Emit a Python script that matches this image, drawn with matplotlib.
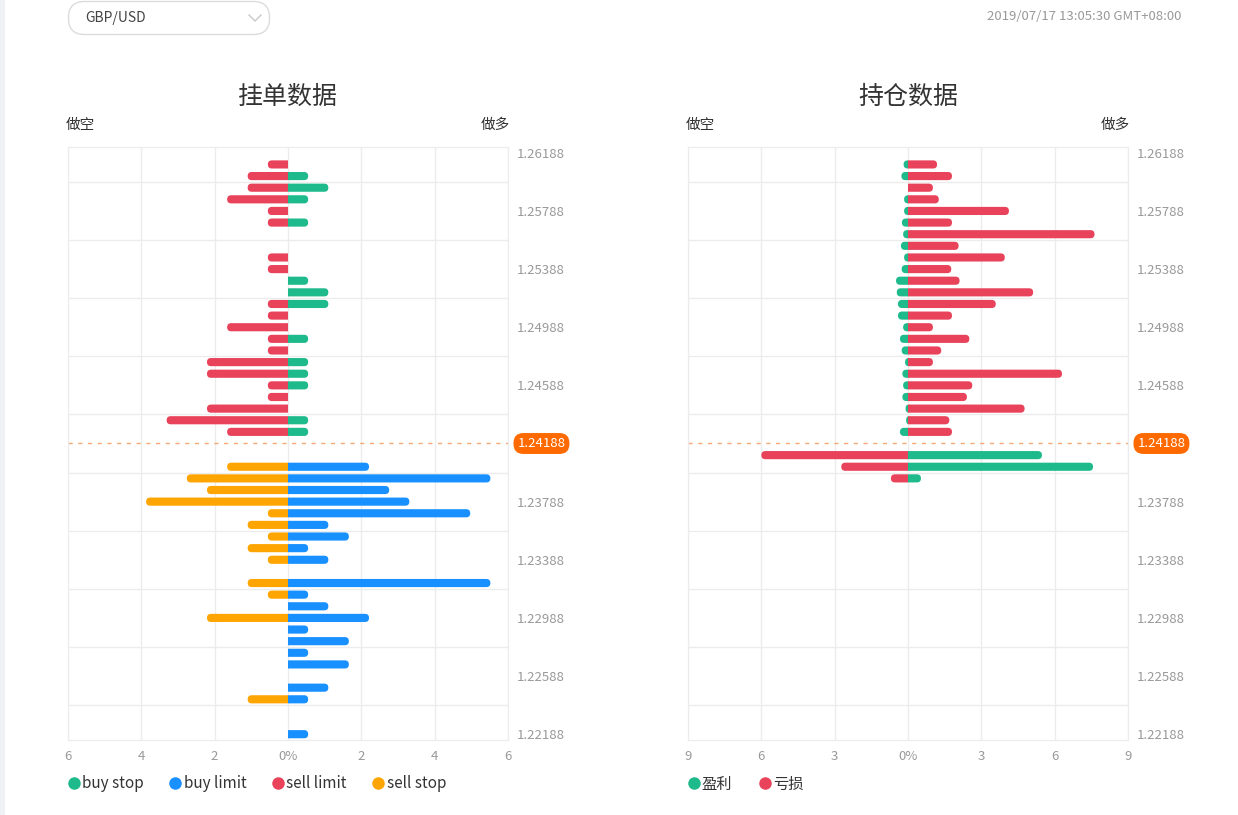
import numpy as np
import matplotlib
matplotlib.use("Agg")
import matplotlib.pyplot as plt
from matplotlib.patches import FancyBboxPatch, Rectangle
from matplotlib.lines import Line2D
from matplotlib.transforms import IdentityTransform

plt.rcParams['font.family'] = ['Noto Sans CJK SC', 'DejaVu Sans']

# 51 price levels, top (1.26188) to bottom (1.22188); labels every 5th level
tick_labels = ["1.26188", "1.25788", "1.25388", "1.24988", "1.24588", "1.24188",
               "1.23788", "1.23388", "1.22988", "1.22588", "1.22188"]
current_price = "1.24188"
current_idx = 25
n_levels = 51

# 挂单数据 (%)
sell_limit = [0, .55, 1.1, 1.1, 1.66, .55, .55, 0, 0, .55,
              .55, 0, 0, .55, .55, 1.66, .55, .55, 2.21, 2.21,
              .55, .55, 2.21, 3.31, 1.66, 0, 0, 0, 0, 0,
              0, 0, 0, 0, 0, 0, 0, 0, 0, 0,
              0, 0, 0, 0, 0, 0, 0, 0, 0, 0,
              0]
buy_stop = [0, 0, .55, 1.1, .55, 0, .55, 0, 0, 0,
            0, .55, 1.1, 1.1, 0, 0, .55, 0, .55, .55,
            .55, 0, 0, .55, .55, 0, 0, 0, 0, 0,
            0, 0, 0, 0, 0, 0, 0, 0, 0, 0,
            0, 0, 0, 0, 0, 0, 0, 0, 0, 0,
            0]
sell_stop = [0, 0, 0, 0, 0, 0, 0, 0, 0, 0,
             0, 0, 0, 0, 0, 0, 0, 0, 0, 0,
             0, 0, 0, 0, 0, 0, 0, 1.66, 2.76, 2.21,
             3.87, .55, 1.1, .55, 1.1, .55, 0, 1.1, .55, 0,
             2.21, 0, 0, 0, 0, 0, 0, 1.1, 0, 0,
             0]
buy_limit = [0, 0, 0, 0, 0, 0, 0, 0, 0, 0,
             0, 0, 0, 0, 0, 0, 0, 0, 0, 0,
             0, 0, 0, 0, 0, 0, 0, 2.21, 5.52, 2.76,
             3.31, 4.97, 1.1, 1.66, .55, 1.1, 0, 5.52, .55, 1.1,
             2.21, .55, 1.66, .55, 1.66, 0, 1.1, .55, 0, 0,
             .55]

# 持仓数据 (%): 做空 side (left) and 做多 side (right)
short_pos = [0, .18, .27, 0, .16, .16, .25, .2, .29, .16,
             .26, .49, .46, .41, .41, .2, .33, .26, .12, .23,
             .2, .23, .1, .08, .33, 0, 6.0, 2.73, .7, 0,
             0, 0, 0, 0, 0, 0, 0, 0, 0, 0,
             0, 0, 0, 0, 0, 0, 0, 0, 0, 0,
             0]
long_pos = [0, 1.19, 1.8, 1.02, 1.26, 4.13, 1.8, 7.63, 2.07, 3.96,
            1.77, 2.11, 5.12, 3.59, 1.8, 1.02, 2.51, 1.36, 1.02, 6.3,
            2.63, 2.41, 4.77, 1.69, 1.8, 0, 5.48, 7.57, .53, 0,
            0, 0, 0, 0, 0, 0, 0, 0, 0, 0,
            0, 0, 0, 0, 0, 0, 0, 0, 0, 0,
            0]

GREEN = '#1fba8b'
BLUE = '#1890ff'
RED = '#e8435a'
ORANGE = '#ffa502'
GRID = '#ececec'
TICK = '#999999'
TEXT = '#333333'

W, H = 1238, 815
fig = plt.figure(figsize=(W / 100, H / 100), dpi=100)
fig.patch.set_facecolor('white')


def px_axes(x0, x1, y0, y1):
    return fig.add_axes([x0 / W, 1 - y1 / H, (x1 - x0) / W, (y1 - y0) / H])


def round_bars(ax, bars):
    # swap each flat bar for a pill clipped at zero, so only the outer end is round
    bb = ax.get_window_extent()
    xl, yl = ax.get_xlim(), ax.get_ylim()
    sx = abs(xl[1] - xl[0]) / bb.width
    sy = abs(yl[1] - yl[0]) / bb.height
    for rect in bars:
        w = rect.get_width()
        rect.set_visible(False)
        if w == 0:
            continue
        h = rect.get_height()
        ry = h / 2
        ext = ry / sy * sx
        total = abs(w) + ext
        rx = min(ext, total / 2)
        left = -ext if w > 0 else w
        pill = FancyBboxPatch((left, rect.get_y()), total, h,
                              boxstyle=f"round,pad=0,rounding_size={rx}",
                              mutation_aspect=ry / rx,
                              fc=rect.get_facecolor(), ec='none', lw=0, zorder=2)
        ax.add_patch(pill)
        side = Rectangle((0, -5), 100 if w > 0 else -100, n_levels + 10, transform=ax.transData)
        pill.set_clip_path(side)


def setup_axis(ax, xmax, step):
    ax.set_xlim(-xmax, xmax)
    ax.set_ylim(n_levels - 0.5, -0.5)
    xt = np.arange(-xmax, xmax + step, step)
    ax.set_xticks(xt)
    ax.set_xticklabels(["0%" if v == 0 else f"{abs(v):g}" for v in xt])
    yt = np.arange(0, n_levels, 5)
    ax.set_yticks(yt)
    ax.set_yticklabels([lab if lab != current_price else "" for lab in tick_labels])
    ax.set_yticks(np.arange(2.5, n_levels - 1, 5), minor=True)
    ax.yaxis.tick_right()
    ax.tick_params(axis='both', which='both', length=0, colors=TICK, labelsize=9.5)
    ax.tick_params(axis='x', pad=7)
    ax.tick_params(axis='y', pad=6)
    ax.grid(which='major', axis='x', color=GRID, lw=1)
    ax.grid(which='minor', axis='y', color=GRID, lw=1)
    ax.set_axisbelow(True)
    for s in ax.spines.values():
        s.set_color(GRID)
    ax.axhline(current_idx, color='#f6a877', lw=1, ls=(0, (3, 4)), zorder=1)
    ax.text(1.0215, current_idx, current_price, transform=ax.get_yaxis_transform(),
            ha='left', va='center', color='white', fontsize=9.5,
            bbox=dict(boxstyle='round,pad=0.3,rounding_size=0.75', fc='#ff6a00', ec='none'))


y = np.arange(n_levels)
bar_h = 0.7

# left panel: 挂单数据
ax1 = px_axes(68, 508, 147, 740)
setup_axis(ax1, 6, 2)
for vals, col, sign in [(sell_limit, RED, -1), (buy_stop, GREEN, 1),
                        (sell_stop, ORANGE, -1), (buy_limit, BLUE, 1)]:
    b = ax1.barh(y, sign * np.array(vals), height=bar_h, color=col, lw=0)
    round_bars(ax1, b)

# right panel: 持仓数据
ax2 = px_axes(688, 1128, 147, 740)
setup_axis(ax2, 9, 3)
short_cols = [GREEN if i < current_idx else RED for i in y]
long_cols = [RED if i < current_idx else GREEN for i in y]
b = ax2.barh(y, -np.array(short_pos), height=bar_h, color=short_cols, lw=0)
round_bars(ax2, b)
b = ax2.barh(y, np.array(long_pos), height=bar_h, color=long_cols, lw=0)
round_bars(ax2, b)

# titles and side labels
for cx, lx, rx, title in [(288, 66, 510, "挂单数据"), (908, 686, 1130, "持仓数据")]:
    fig.text(cx / W, 1 - 97 / H, title, ha='center', va='center', fontsize=18, color=TEXT)
    fig.text(lx / W, 1 - 125 / H, "做空", ha='left', va='center', fontsize=10.5, color=TEXT)
    fig.text(rx / W, 1 - 125 / H, "做多", ha='right', va='center', fontsize=10.5, color=TEXT)


# legends
def dot(c):
    return Line2D([], [], marker='o', ls='none', markersize=9, markerfacecolor=c, markeredgecolor='none')


leg_kw = dict(loc='center left', frameon=False, fontsize=11, handletextpad=0.1,
              handlelength=0.9, borderpad=0, labelcolor=TEXT)
fig.legend([dot(GREEN), dot(BLUE), dot(RED), dot(ORANGE)],
           ["buy stop", "buy limit", "sell limit", "sell stop"],
           bbox_to_anchor=(59 / W, 1 - 784 / H), ncol=4, columnspacing=1.62, **leg_kw)
fig.legend([dot(GREEN), dot(RED)], ["盈利", "亏损"],
           bbox_to_anchor=(679 / W, 1 - 784 / H), ncol=2, columnspacing=1.7, **leg_kw)

# header: left strip, pair selector, timestamp
fig.add_artist(Rectangle((0, 0), 5, H, transform=IdentityTransform(), fc='#eff1f5', ec='none'))
fig.add_artist(FancyBboxPatch((68.5, H - 34.5), 201, 33, boxstyle='round,pad=0,rounding_size=16',
                              transform=IdentityTransform(), fc='white', ec='#dcdcdc', lw=1))
fig.add_artist(Line2D([249, 255, 261], [H - 15, H - 21, H - 15], transform=IdentityTransform(),
                      color='#c8c8c8', lw=1))
fig.text(85 / W, 1 - 18 / H, "GBP/USD", ha='left', va='center', fontsize=10, color='#444444')
fig.text(1181 / W, 1 - 17 / H, "2019/07/17 13:05:30 GMT+08:00", ha='right', va='center',
         fontsize=9.5, color=TICK)

fig.savefig("out.png", dpi=100)
